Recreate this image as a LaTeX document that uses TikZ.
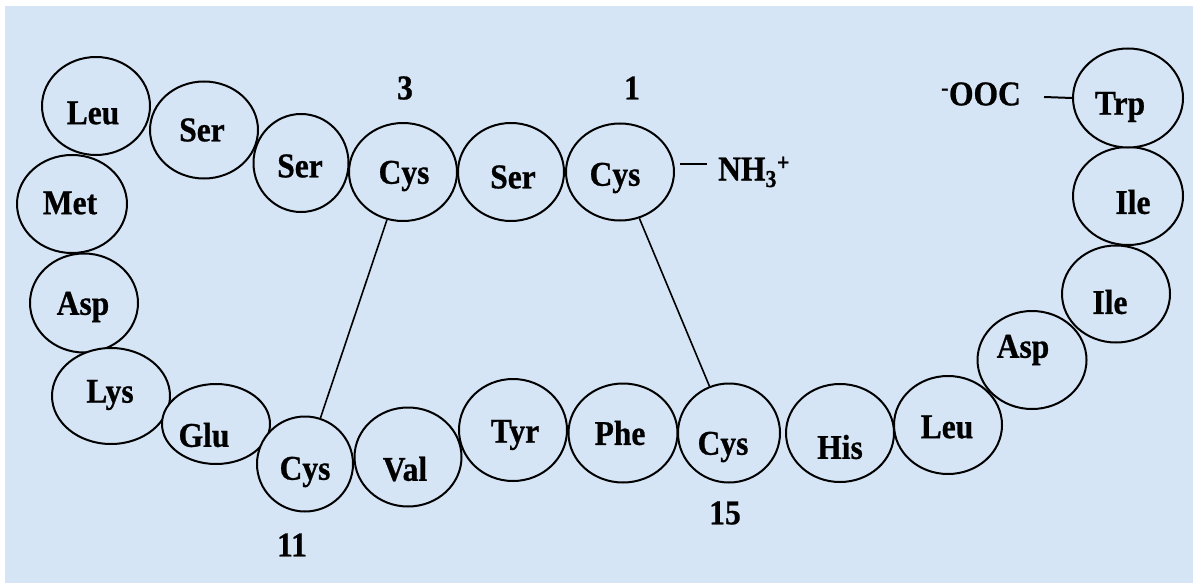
\documentclass[tikz,border=0pt]{standalone}
\usepackage{fontspec}
\setmainfont{Liberation Serif}[BoldFeatures={FakeBold=0.8}]
\usetikzlibrary{shapes.geometric}
\definecolor{bgblue}{RGB}{213,229,245}
\newcommand\tx[1]{\scalebox{1}[1.1]{#1}}
\newcommand\resid[8]{%
  \node[res, minimum width=#4pt, minimum height=#5pt] (#1) at (#2,#3) {};
  \node[lbl] (#1t) at (#7,#8) {\tx{#6}};}
\begin{document}
\begin{tikzpicture}[x=1pt,y=-1pt,
  res/.style={ellipse, draw=black, line width=2pt, fill=bgblue, inner sep=0pt},
  lbl/.style={font=\fontsize{31.5}{36}\selectfont\bfseries, inner sep=0pt},
  bond/.style={line width=1.6pt},
  endbond/.style={line width=2pt}]
\useasboundingbox (0,0) rectangle (1193,583);
\fill[white] (0,0) rectangle (1193,583);
\fill[bgblue] (5,6) rectangle (1193,583);
% residues
\resid{leuA}{96}{106}{108}{98}{Leu}{93}{113}
\resid{serA}{204}{130}{108}{97}{Ser}{202}{130}
\resid{serB}{301}{163}{95}{98}{Ser}{300}{166}
\resid{cysC}{403}{172}{108}{98}{Cys}{404}{176}
\resid{serC}{511}{172}{106}{98}{Ser}{513}{177}
\resid{cysA}{620}{172}{108}{97}{Cys}{615}{178}
\resid{met}{72}{204}{110}{98}{Met}{70}{203}
\resid{aspA}{84}{303}{108}{99}{Asp}{83}{307}
\resid{lys}{111}{396}{118}{96}{Lys}{110}{395}
\resid{glu}{216}{424}{108}{80}{Glu}{204}{435}
\resid{cysB}{305}{464}{96}{95}{Cys}{305}{472}
\resid{val}{408}{457}{107}{99}{Val}{405}{469}
\resid{tyr}{513}{430}{108}{102}{Tyr}{515}{435}
\resid{phe}{623}{433}{109}{99}{Phe}{620}{433}
\resid{cysD}{729}{433}{102}{99}{Cys}{723}{447}
\resid{his}{840}{433}{108}{98}{His}{840}{447}
\resid{leuB}{948}{425}{108}{98}{Leu}{947}{427}
\resid{aspB}{1032}{360}{109}{98}{Asp}{1023}{350}
\resid{ileB}{1116}{294}{108}{97}{Ile}{1110}{302}
\resid{ileA}{1128}{196}{110}{98}{Ile}{1133}{202}
\resid{trp}{1128}{98}{110}{99}{Trp}{1120}{107}
% disulfide bridges
\draw[bond] (cysC) -- (cysB);
\draw[bond] (cysA) -- (cysD);
% termini
\node[lbl, anchor=west] (nh3) at (718,172) {\tx{NH\textsubscript{3}\textsuperscript{+}}};
\draw[endbond] ([xshift=5pt,yshift=8pt]cysA.east) -- ([xshift=-11pt,yshift=8pt]nh3.west);
\node[lbl] (ooc) at (981,94) {\tx{\textsuperscript{-}OOC}};
\draw[endbond] ([xshift=23pt,yshift=-3pt]ooc.east) -- (trp.west);
% numbers
\node[lbl] (n3) at (405,88) {\tx{3}};
\node[lbl] (n1) at (632,88) {\tx{1}};
\node[lbl] (n11) at (292,545) {\tx{11}};
\node[lbl] (n15) at (725,513) {\tx{15}};
\end{tikzpicture}
\end{document}
